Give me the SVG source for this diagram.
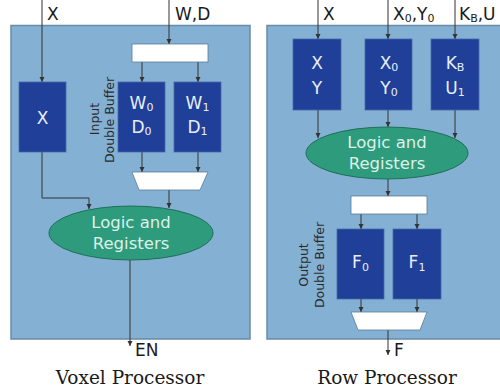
<svg xmlns="http://www.w3.org/2000/svg" width="500" height="391" viewBox="0 0 500 391">
<style>
.panel{fill:#84b1d3;stroke:#6a8aa5;stroke-width:1.5}
.box{fill:#1f3f98;stroke:#4a6aa8;stroke-width:0.8}
.wb{fill:#ffffff;stroke:#5a7a95;stroke-width:0.8}
.ell{fill:#2e9b7d;stroke:#1f6f58;stroke-width:1}
.bt{font-family:"DejaVu Sans",Verdana,sans-serif;font-size:17px;fill:#e8eef8;text-anchor:middle}
.et{font-family:"DejaVu Sans",Verdana,sans-serif;font-size:16.5px;fill:#dcf2e8;text-anchor:middle}
.lbl{font-family:"DejaVu Sans",Verdana,sans-serif;font-size:17px;fill:#1a1a1a}
.rt{font-family:"DejaVu Sans",Verdana,sans-serif;font-size:12.5px;fill:#2a2a2a;text-anchor:middle}
.title{font-family:"DejaVu Serif",serif;font-size:18.5px;fill:#1a1a1a;text-anchor:middle}
.sub{font-size:11px}
.c{fill:none;stroke:#333;stroke-width:1;marker-end:url(#ah)}
</style>
<defs>
<marker id="ah" markerWidth="6" markerHeight="6" refX="5" refY="3" orient="auto" markerUnits="userSpaceOnUse">
<path d="M0,0.5 L5,3 L0,5.5 Z" fill="#333"/>
</marker>
</defs>
<rect width="500" height="391" fill="#ffffff"/>

<g id="voxel-panel">
<rect class="panel" x="11" y="25.5" width="239" height="313.5"/>
</g>
<g id="row-panel">
<rect class="panel" x="267" y="25.5" width="236" height="313.5"/>
</g>

<g id="connectors">
<path class="c" d="M42,0 V82"/>
<path class="c" d="M169,0 V44"/>
<path class="c" d="M142,62 V82"/>
<path class="c" d="M198,62 V82"/>
<path class="c" d="M142,152 V172"/>
<path class="c" d="M198,152 V172"/>
<path class="c" d="M169,190 V208"/>
<path class="c" d="M42,152 V198 H89 V209"/>
<path class="c" d="M130,260 V346"/>
<path class="c" d="M318,0 V39"/>
<path class="c" d="M388,0 V39"/>
<path class="c" d="M455,0 V39"/>
<path class="c" d="M318,110 V138"/>
<path class="c" d="M388,110 V127"/>
<path class="c" d="M455,110 V138"/>
<path class="c" d="M388,179 V196"/>
<path class="c" d="M361,214 V229"/>
<path class="c" d="M417,214 V229"/>
<path class="c" d="M361,299 V312"/>
<path class="c" d="M417,299 V312"/>
<path class="c" d="M388,330 V355"/>
</g>

<g id="io-labels">
<text class="lbl" x="47" y="20">X</text>
<text class="lbl" x="175" y="20">W,D</text>
<text class="lbl" x="135" y="356">EN</text>
<text class="lbl" x="323" y="20">X</text>
<text class="lbl" x="393" y="20">X<tspan class="sub" dy="2">0</tspan><tspan dy="-2">,Y</tspan><tspan class="sub" dy="2">0</tspan></text>
<text class="lbl" x="459" y="20">K<tspan class="sub" dy="2">B</tspan><tspan dy="-2">,U</tspan></text>
<text class="lbl" x="394" y="356">F</text>
</g>

<g id="voxel-x-reg">
<rect class="box" x="19" y="82" width="47" height="70"/>
<text class="bt" x="42.5" y="124">X</text>
</g>
<g id="input-demux">
<rect class="wb" x="132" y="44" width="76" height="18"/>
</g>
<g id="input-buffer-label">
<text class="rt" transform="translate(99,119) rotate(-90)">Input</text>
<text class="rt" transform="translate(114,120) rotate(-90)">Double Buffer</text>
</g>
<g id="buf-w0d0">
<rect class="box" x="118" y="82" width="47" height="70"/>
<text class="bt" x="141.5" y="109">W<tspan class="sub" dy="2">0</tspan></text>
<text class="bt" x="141.5" y="133">D<tspan class="sub" dy="2">0</tspan></text>
</g>
<g id="buf-w1d1">
<rect class="box" x="174" y="82" width="47" height="70"/>
<text class="bt" x="197.5" y="109">W<tspan class="sub" dy="2">1</tspan></text>
<text class="bt" x="197.5" y="133">D<tspan class="sub" dy="2">1</tspan></text>
</g>
<g id="input-mux">
<path class="wb" d="M132,172 H208 L200,190 H139 Z"/>
</g>
<g id="voxel-logic">
<ellipse class="ell" cx="131" cy="233" rx="82" ry="27"/>
<text class="et" x="131" y="228">Logic and</text>
<text class="et" x="131" y="249">Registers</text>
</g>
<g id="voxel-title">
<text class="title" x="130" y="384">Voxel Processor</text>
</g>

<g id="row-xy">
<rect class="box" x="293" y="39" width="48" height="71"/>
<text class="bt" x="317" y="69">X</text>
<text class="bt" x="317" y="94">Y</text>
</g>
<g id="row-x0y0">
<rect class="box" x="365" y="39" width="47" height="71"/>
<text class="bt" x="389" y="69">X<tspan class="sub" dy="2">0</tspan></text>
<text class="bt" x="389" y="94">Y<tspan class="sub" dy="2">0</tspan></text>
</g>
<g id="row-kbu1">
<rect class="box" x="431" y="39" width="48" height="71"/>
<text class="bt" x="455" y="69">K<tspan class="sub" dy="2">B</tspan></text>
<text class="bt" x="455" y="94">U<tspan class="sub" dy="2">1</tspan></text>
</g>
<g id="row-logic">
<ellipse class="ell" cx="387" cy="153" rx="81" ry="26"/>
<text class="et" x="387" y="148">Logic and</text>
<text class="et" x="387" y="169">Registers</text>
</g>
<g id="output-demux">
<rect class="wb" x="351" y="196" width="76" height="18"/>
</g>
<g id="output-buffer-label">
<text class="rt" transform="translate(308,265) rotate(-90)">Output</text>
<text class="rt" transform="translate(324,265) rotate(-90)">Double Buffer</text>
</g>
<g id="buf-f0">
<rect class="box" x="337" y="229" width="47" height="70"/>
<text class="bt" x="360.5" y="268">F<tspan class="sub" dy="3">0</tspan></text>
</g>
<g id="buf-f1">
<rect class="box" x="393" y="229" width="48" height="70"/>
<text class="bt" x="417" y="268">F<tspan class="sub" dy="3">1</tspan></text>
</g>
<g id="output-mux">
<path class="wb" d="M351,312 H427 L420,330 H358 Z"/>
</g>
<g id="row-title">
<text class="title" x="387" y="384">Row Processor</text>
</g>
</svg>
